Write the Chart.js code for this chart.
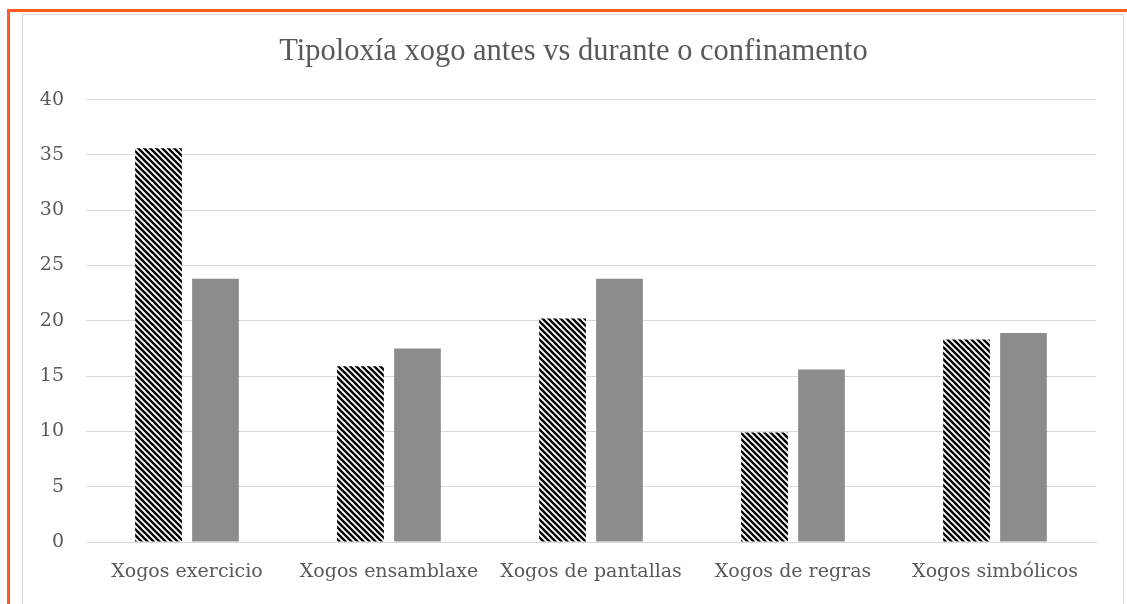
<!DOCTYPE html>
<html>
<head>
<meta charset="utf-8">
<script src="https://cdn.jsdelivr.net/npm/chart.js@4"></script>
<style>
  html, body { margin: 0; padding: 0; background: #fff; width: 1127px; height: 604px; overflow: hidden; }
  #marco { position: absolute; left: 7px; top: 9px; width: 1130px; height: 610px;
           border-left: 3px solid #ff5a1f; border-top: 3px solid #ff5a1f; }
  #caixa { position: absolute; left: 22px; top: 14px; width: 1100px; height: 600px;
           border: 1px solid #d9d9d9; border-bottom: none; background: #fff; }
  #wrap { position: absolute; left: 23px; top: 15px; width: 1100px; height: 589px; }
</style>
</head>
<body>
<div id="marco"></div>
<div id="caixa"></div>
<div id="wrap"><canvas id="grafico"></canvas></div>
<script>
const categorias = ["Xogos exercicio", "Xogos ensamblaxe", "Xogos de pantallas", "Xogos de regras", "Xogos simbólicos"];
const antes = [35.6, 15.9, 20.2, 9.9, 18.3];
const durante = [23.8, 17.5, 23.8, 15.6, 18.9];
const ticksY = [0, 5, 10, 15, 20, 25, 30, 35, 40];

// Patrón de raias diagonais para a serie "antes"
function crearRaias() {
  const c = document.createElement("canvas");
  c.width = 6;
  c.height = 6;
  const g = c.getContext("2d");
  g.fillStyle = "#fff";
  g.fillRect(0, 0, 6, 6);
  g.strokeStyle = "#000";
  g.lineWidth = 2.4;
  g.beginPath();
  g.moveTo(-1, -1); g.lineTo(7, 7);
  g.moveTo(-7, -1); g.lineTo(1, 7);
  g.moveTo(5, -1); g.lineTo(13, 7);
  g.stroke();
  return g.createPattern(c, "repeat");
}

const ctx = document.getElementById("grafico").getContext("2d");

new Chart(ctx, {
  type: "bar",
  data: {
    labels: categorias,
    datasets: [
      {
        label: "Antes",
        data: antes,
        backgroundColor: crearRaias(),
        borderWidth: 0,
      },
      {
        label: "Durante",
        data: durante,
        backgroundColor: "#8c8c8c",
        borderWidth: 0,
      },
    ],
  },
  options: {
    responsive: true,
    maintainAspectRatio: false,
    animation: false,
    categoryPercentage: 0.564,
    barPercentage: 0.82,
    layout: { padding: { left: 14, right: 13, top: 0, bottom: 0 } },
    plugins: {
      legend: { display: false },
      tooltip: { enabled: false },
      title: {
        display: true,
        text: "Tipoloxía xogo antes vs durante o confinamento",
        color: "#595959",
        font: { family: "'Liberation Serif', serif", size: 30.5, weight: "normal" },
        padding: { top: 19, bottom: 29 },
      },
    },
    scales: {
      x: {
        grid: { display: false, drawTicks: false },
        border: { color: "#d9d9d9" },
        ticks: {
          color: "#595959",
          padding: 19,
          maxRotation: 0,
          font: { family: "'DejaVu Serif', serif", size: 19 },
        },
        afterFit: (scale) => { scale.height = 62; },
      },
      y: {
        min: 0,
        max: 40,
        afterBuildTicks: (scale) => { scale.ticks = ticksY.map((v) => ({ value: v })); },
        grid: { color: "#d9d9d9", drawTicks: false },
        border: { display: false },
        ticks: {
          color: "#595959",
          padding: 22,
          font: { family: "'DejaVu Serif', serif", size: 19 },
        },
        afterFit: (scale) => { scale.width = 49; },
      },
      // eixo baleiro á dereita só para reservar marxe
      dereita: {
        position: "right",
        min: 0,
        max: 40,
        grid: { display: false, drawTicks: false },
        border: { display: false },
        ticks: { display: false },
        afterFit: (scale) => { scale.width = 14; },
      },
    },
  },
});
</script>
</body>
</html>
